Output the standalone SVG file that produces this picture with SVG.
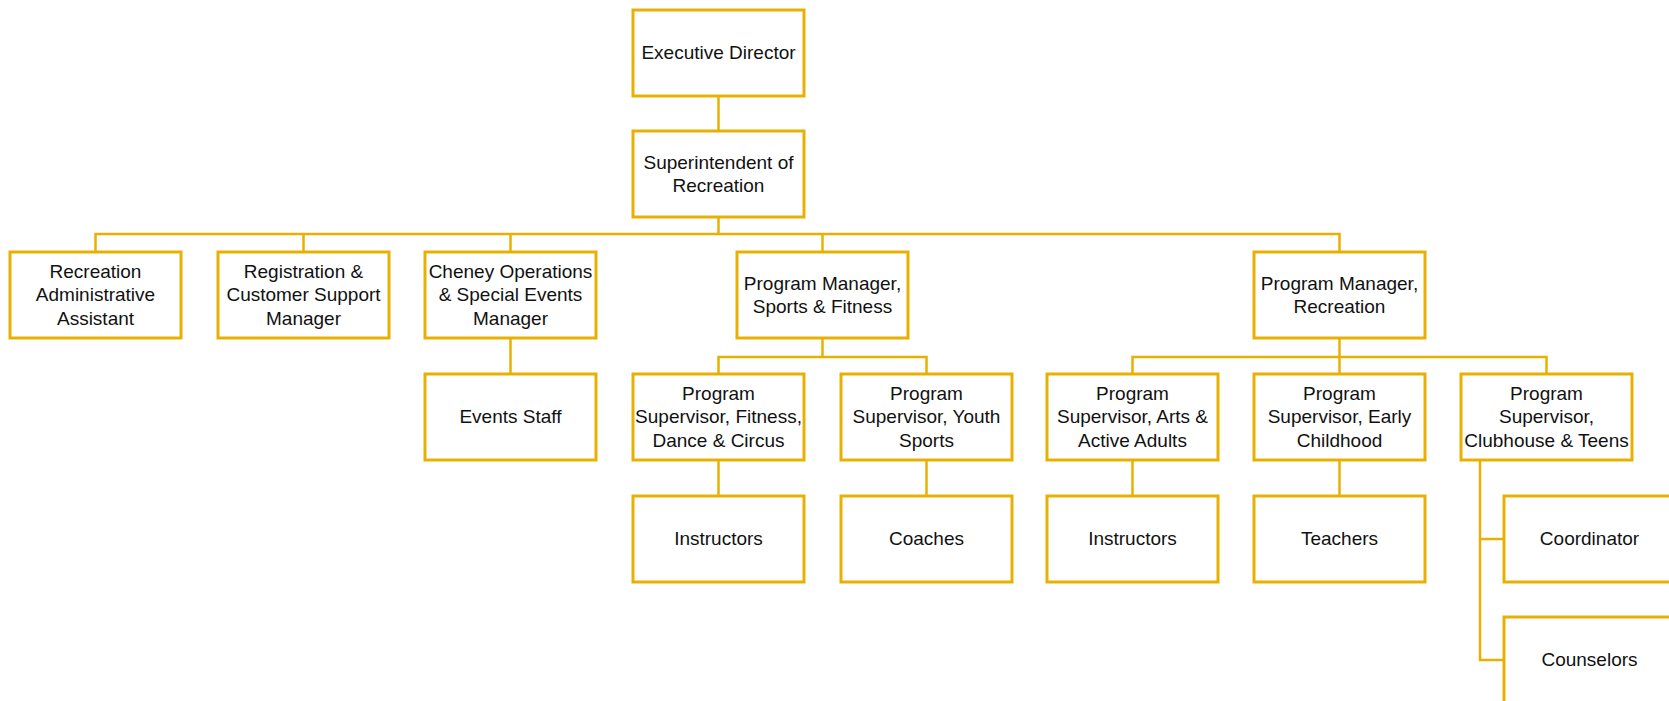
<svg xmlns="http://www.w3.org/2000/svg" width="1669" height="701" viewBox="0 0 1669 701">
  <style>
    .box { fill: #ffffff; stroke: #E9B004; stroke-width: 3; }
    .wire { fill: none; stroke: #E9B004; stroke-width: 2.5; }
    text { font-family: "Liberation Sans", Arial, sans-serif; font-size: 19px; fill: #111111; text-anchor: middle; }
  </style>
  <rect width="1669" height="701" fill="#ffffff"/>

  <!-- reporting lines -->
  <g id="connectors" class="wire">
    <path d="M718.5 96 V131"/>
    <path d="M718.5 217 V234"/>
    <path d="M95.5 252 V234 H1339.5 V252"/>
    <path d="M303.5 234 V252"/>
    <path d="M510.5 234 V252"/>
    <path d="M822.5 234 V252"/>
    <path d="M510.5 338 V374"/>
    <path d="M822.5 338 V357"/>
    <path d="M718.5 374 V357 H926.5 V374"/>
    <path d="M1339.5 338 V374"/>
    <path d="M1132.5 374 V357 H1546.5 V374"/>
    <path d="M718.5 460 V496"/>
    <path d="M926.5 460 V496"/>
    <path d="M1132.5 460 V496"/>
    <path d="M1339.5 460 V496"/>
    <path d="M1480 460 V660 H1504"/>
    <path d="M1480 539 H1504"/>
  </g>

  <g id="executive-director">
    <rect class="box" x="633" y="10" width="171" height="86"/>
    <text x="718.5" y="59">Executive Director</text>
  </g>

  <g id="superintendent">
    <rect class="box" x="633" y="131" width="171" height="86"/>
    <text x="718.5" y="168.5">Superintendent of</text>
    <text x="718.5" y="192">Recreation</text>
  </g>

  <g id="rec-admin-assistant">
    <rect class="box" x="10" y="252" width="171" height="86"/>
    <text x="95.5" y="277.5">Recreation</text>
    <text x="95.5" y="301">Administrative</text>
    <text x="95.5" y="324.5">Assistant</text>
  </g>

  <g id="registration-manager">
    <rect class="box" x="218" y="252" width="171" height="86"/>
    <text x="303.5" y="277.5">Registration &amp;</text>
    <text x="303.5" y="301">Customer Support</text>
    <text x="303.5" y="324.5">Manager</text>
  </g>

  <g id="cheney-events-manager">
    <rect class="box" x="425" y="252" width="171" height="86"/>
    <text x="510.5" y="277.5">Cheney Operations</text>
    <text x="510.5" y="301">&amp; Special Events</text>
    <text x="510.5" y="324.5">Manager</text>
  </g>

  <g id="pm-sports-fitness">
    <rect class="box" x="737" y="252" width="171" height="86"/>
    <text x="822.5" y="289.5">Program Manager,</text>
    <text x="822.5" y="313">Sports &amp; Fitness</text>
  </g>

  <g id="pm-recreation">
    <rect class="box" x="1254" y="252" width="171" height="86"/>
    <text x="1339.5" y="289.5">Program Manager,</text>
    <text x="1339.5" y="313">Recreation</text>
  </g>

  <g id="events-staff">
    <rect class="box" x="425" y="374" width="171" height="86"/>
    <text x="510.5" y="423">Events Staff</text>
  </g>

  <g id="ps-fitness-dance-circus">
    <rect class="box" x="633" y="374" width="171" height="86"/>
    <text x="718.5" y="399.5">Program</text>
    <text x="718.5" y="423">Supervisor, Fitness,</text>
    <text x="718.5" y="446.5">Dance &amp; Circus</text>
  </g>

  <g id="ps-youth-sports">
    <rect class="box" x="841" y="374" width="171" height="86"/>
    <text x="926.5" y="399.5">Program</text>
    <text x="926.5" y="423">Supervisor, Youth</text>
    <text x="926.5" y="446.5">Sports</text>
  </g>

  <g id="ps-arts-active-adults">
    <rect class="box" x="1047" y="374" width="171" height="86"/>
    <text x="1132.5" y="399.5">Program</text>
    <text x="1132.5" y="423">Supervisor, Arts &amp;</text>
    <text x="1132.5" y="446.5">Active Adults</text>
  </g>

  <g id="ps-early-childhood">
    <rect class="box" x="1254" y="374" width="171" height="86"/>
    <text x="1339.5" y="399.5">Program</text>
    <text x="1339.5" y="423">Supervisor, Early</text>
    <text x="1339.5" y="446.5">Childhood</text>
  </g>

  <g id="ps-clubhouse-teens">
    <rect class="box" x="1461" y="374" width="171" height="86"/>
    <text x="1546.5" y="399.5">Program</text>
    <text x="1546.5" y="423">Supervisor,</text>
    <text x="1546.5" y="446.5">Clubhouse &amp; Teens</text>
  </g>

  <g id="fitness-instructors">
    <rect class="box" x="633" y="496" width="171" height="86"/>
    <text x="718.5" y="545">Instructors</text>
  </g>

  <g id="coaches">
    <rect class="box" x="841" y="496" width="171" height="86"/>
    <text x="926.5" y="545">Coaches</text>
  </g>

  <g id="arts-instructors">
    <rect class="box" x="1047" y="496" width="171" height="86"/>
    <text x="1132.5" y="545">Instructors</text>
  </g>

  <g id="teachers">
    <rect class="box" x="1254" y="496" width="171" height="86"/>
    <text x="1339.5" y="545">Teachers</text>
  </g>

  <g id="coordinator">
    <rect class="box" x="1504" y="496" width="171" height="86"/>
    <text x="1589.5" y="545">Coordinator</text>
  </g>

  <g id="counselors">
    <rect class="box" x="1504" y="617" width="171" height="86"/>
    <text x="1589.5" y="666">Counselors</text>
  </g>
</svg>
